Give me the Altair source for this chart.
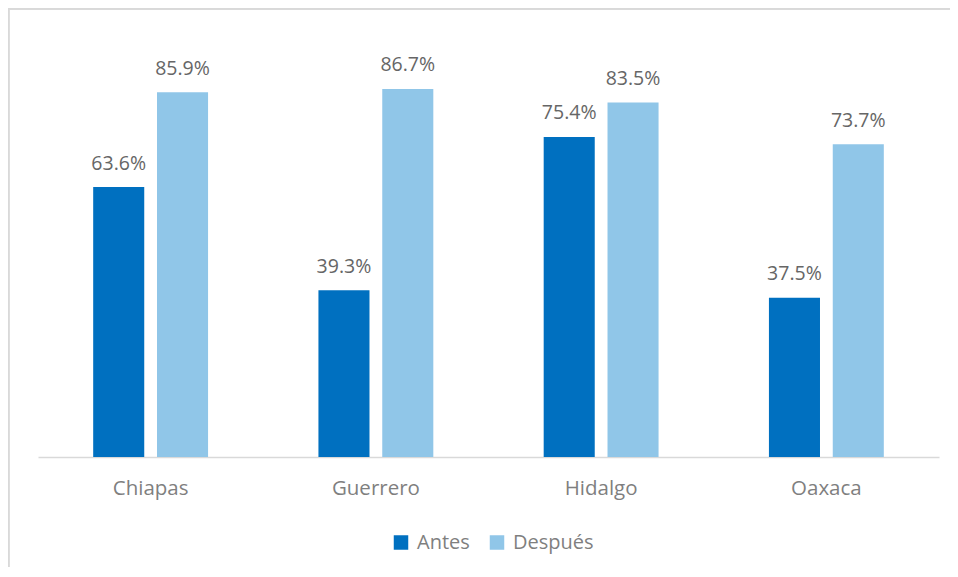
import altair as alt
import pandas as pd

states = ["Chiapas", "Guerrero", "Hidalgo", "Oaxaca"]
series = ["Antes", "Después"]
antes = [63.6, 39.3, 75.4, 37.5]
despues = [85.9, 86.7, 83.5, 73.7]
colors = ["#0070C0", "#90C6E8"]

rows = []
for s, a, d in zip(states, antes, despues):
    rows.append({"estado": s, "serie": "Antes", "valor": a, "etiqueta": f"{a:.1f}%"})
    rows.append({"estado": s, "serie": "Después", "valor": d, "etiqueta": f"{d:.1f}%"})
df = pd.DataFrame(rows)

FONT = "Open Sans"
GRAY = "#666666"
LGRAY = "#7F7F7F"

x = alt.X("estado:N", sort=states, title=None,
          scale=alt.Scale(paddingInner=0.49, paddingOuter=0.245),
          axis=alt.Axis(labelAngle=0, ticks=False, labelFontSize=20.5, labelColor=LGRAY,
                        labelFont=FONT, labelPadding=21, domainColor="#D9D9D9",
                        domainWidth=1.5, grid=False))
xo = alt.XOffset("serie:N", sort=series, scale=alt.Scale(paddingInner=0.2))
y = alt.Y("valor:Q", scale=alt.Scale(domain=[0, 100]), axis=None)

bars = alt.Chart(df).mark_bar().encode(
    x=x, xOffset=xo, y=y,
    color=alt.Color("serie:N", sort=series, scale=alt.Scale(domain=series, range=colors),
                    legend=alt.Legend(title=None, orient="none", direction="horizontal",
                                      legendX=353, legendY=500, symbolType="square",
                                      symbolSize=210, symbolStrokeWidth=0,
                                      labelFontSize=20, labelColor=LGRAY, labelFont=FONT,
                                      labelOffset=6, columnPadding=17, padding=0)),
)

labels = alt.Chart(df).mark_text(baseline="alphabetic", dy=-17.5, fontSize=19.5,
                                 font=FONT, color=GRAY).encode(
    x=x, xOffset=xo, y=y, text="etiqueta:N"
)

border_left = alt.Chart(df).mark_rule(color="#D9D9D9", strokeWidth=1.5).encode(
    x=alt.value(-29.5), y=alt.value(-24.5), y2=alt.value(560)
)
border_top = alt.Chart(df).mark_rule(color="#D9D9D9", strokeWidth=1.5).encode(
    x=alt.value(-29.5), x2=alt.value(915), y=alt.value(-23.75)
)

chart = alt.layer(bars, labels, border_left, border_top).properties(
    width=901, height=424.5,
    padding={"left": 30, "top": 24.5, "right": 11, "bottom": 110},
    autosize=alt.AutoSizeParams(type="none"),
    background="white",
).configure_view(stroke=None)

chart.save("out.html", embed_options={"renderer": "svg", "actions": False})
